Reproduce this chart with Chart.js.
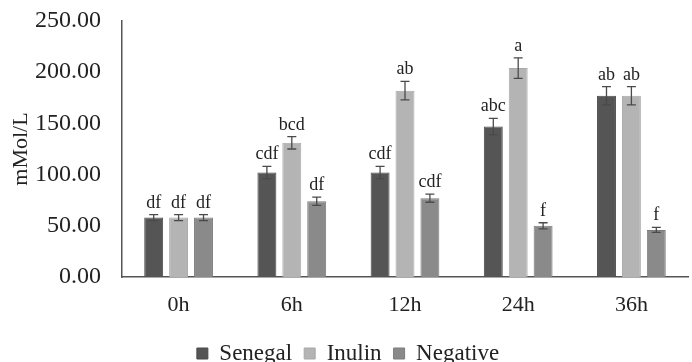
<!DOCTYPE html>
<html>
<head>
<meta charset="utf-8">
<script src="https://cdn.jsdelivr.net/npm/chart.js@4/dist/chart.umd.min.js"></script>
<style>
  body { margin: 0; background: #fff; }
  #wrap { width: 692px; height: 362px; }
</style>
</head>
<body>
<div id="wrap"><canvas id="scfaChart"></canvas></div>
<script>
const categories = ["0h", "6h", "12h", "24h", "36h"]
const senegal = [58, 102, 102, 147, 177]
const inulin = [58, 131, 182, 204, 177]
const negative = [58, 74, 77, 50, 46]
const senegalErr = [3, 6, 6, 8, 9]
const inulinErr = [3, 6, 9, 10, 9]
const negativeErr = [3, 4, 4, 3, 2.5]
const senegalLetters = ["df", "cdf", "cdf", "abc", "ab"]
const inulinLetters = ["df", "bcd", "ab", "a", "ab"]
const negativeLetters = ["df", "df", "cdf", "f", "f"]
const yTicks = [0, 50, 100, 150, 200, 250]

const serif = "'Liberation Serif', 'Times New Roman', serif"

// error bars + letter labels drawn through the scales
const errorBarPlugin = {
    id: "errorBars",
    afterDatasetsDraw(chart) {
        const ctx = chart.ctx
        const y = chart.scales.y
        chart.data.datasets.forEach((ds, i) => {
            const meta = chart.getDatasetMeta(i)
            meta.data.forEach((bar, j) => {
                const v = ds.data[j]
                const e = ds.errors[j]
                const top = y.getPixelForValue(v + e)
                const bot = y.getPixelForValue(v - e)
                const x = bar.x
                ctx.save()
                ctx.strokeStyle = "#4a4a4a"
                ctx.lineWidth = 1.3
                ctx.beginPath()
                ctx.moveTo(x, top); ctx.lineTo(x, bot)
                ctx.moveTo(x - 4.5, top); ctx.lineTo(x + 4.5, top)
                ctx.moveTo(x - 4.5, bot); ctx.lineTo(x + 4.5, bot)
                ctx.stroke()
                ctx.fillStyle = "#222"
                ctx.font = "18px " + serif
                ctx.textAlign = "center"
                ctx.textBaseline = "alphabetic"
                ctx.fillText(ds.letters[j], x, top - 7)
                ctx.restore()
            })
        })
    }
}

new Chart(document.getElementById("scfaChart"), {
    type: "bar",
    data: {
        labels: categories,
        datasets: [{
            label: "Senegal",
            data: senegal,
            errors: senegalErr,
            letters: senegalLetters,
            backgroundColor: "#555555",
            borderColor: "#4a4a4a",
            borderWidth: 1
        }, {
            label: "Inulin",
            data: inulin,
            errors: inulinErr,
            letters: inulinLetters,
            backgroundColor: "#b4b4b4",
            borderColor: "#a8a8a8",
            borderWidth: 1
        }, {
            label: "Negative",
            data: negative,
            errors: negativeErr,
            letters: negativeLetters,
            backgroundColor: "#8a8a8a",
            borderColor: "#7c7c7c",
            borderWidth: 1
        }]
    },
    options: {
        responsive: true,
        maintainAspectRatio: false,
        animation: false,
        layout: { padding: { left: 8, right: 4, top: 21, bottom: 0 } },
        categoryPercentage: 0.66,
        barPercentage: 0.76,
        plugins: {
            tooltip: { enabled: false },
            legend: {
                position: "bottom",
                maxHeight: 32,
                labels: {
                    color: "#222",
                    font: { family: serif, size: 23 },
                    boxWidth: 11,
                    boxHeight: 11,
                    padding: 12
                }
            }
        },
        scales: {
            x: {
                grid: { display: false, drawTicks: false },
                border: { display: true, color: "#555", width: 1.5 },
                ticks: { color: "#222", font: { family: serif, size: 22 }, padding: 15 },
                afterFit: axis => { axis.height = 53 }
            },
            y: {
                min: 0,
                max: 250,
                afterBuildTicks: axis => { axis.ticks = yTicks.map(v => ({ value: v })) },
                afterFit: axis => {
                    axis.width = 114
                    axis.paddingTop = 0
                    axis.paddingBottom = 0
                },
                grid: { display: false, drawTicks: false },
                border: { display: true, color: "#555", width: 1.5 },
                ticks: {
                    color: "#222",
                    font: { family: serif, size: 24 },
                    padding: 21,
                    callback: v => v.toFixed(2)
                },
                title: {
                    display: true,
                    text: "mMol/L",
                    color: "#222",
                    font: { family: serif, size: 22 },
                    padding: { top: 0, bottom: 2 }
                }
            }
        }
    },
    plugins: [errorBarPlugin]
});
</script>
</body>
</html>
